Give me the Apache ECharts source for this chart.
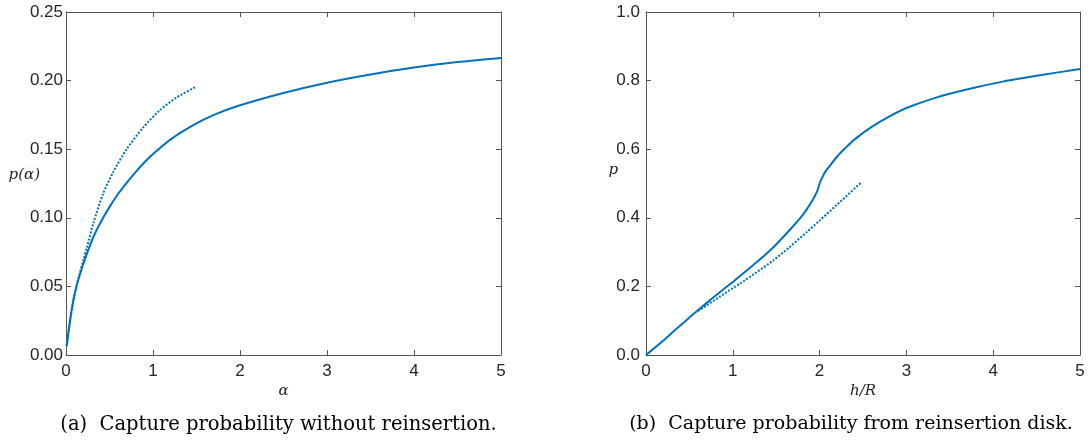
<!DOCTYPE html>
<html>
<head>
<meta charset="utf-8">
<script src="https://cdn.jsdelivr.net/npm/echarts@6/dist/echarts.min.js"></script>
<style>
html,body{margin:0;padding:0;background:#fff;}
#chart{width:1088px;height:442px;}
</style>
</head>
<body>
<div id="chart"></div>
<script>
// ---- Data ----
// (a) capture probability without reinsertion
const leftSolidAlpha = [0.008,0.02,0.05,0.084,0.12,0.161,0.2,0.25,0.314,0.4,0.506,0.6,0.697,0.8,0.9,1.0,1.2,1.463,1.7,2.0,2.5,3.0,3.5,4.0,4.5,5.0];
const leftSolidP     = [0.0065,0.0125,0.0265,0.040,0.050,0.059,0.0665,0.0755,0.086,0.097,0.1085,0.1175,0.1255,0.1333,0.1403,0.1465,0.157,0.1675,0.175,0.182,0.191,0.1985,0.2045,0.2095,0.2135,0.2165];
const leftDotAlpha   = [0.008,0.05,0.1,0.15,0.2,0.238,0.314,0.429,0.544,0.697,0.889,1.08,1.272,1.494];
const leftDotP       = [0.0065,0.0265,0.0445,0.0575,0.0695,0.078,0.096,0.118,0.1335,0.150,0.166,0.1785,0.1877,0.1955];
// (b) capture probability from reinsertion disk
const rightSolidH = [0,0.1,0.2,0.318,0.45,0.55,0.7,0.85,1.0,1.1,1.276,1.4,1.544,1.65,1.774,1.85,1.92,1.97,2.0,2.03,2.07,2.12,2.2,2.3,2.4,2.6,2.8,3.0,3.35,3.73,4.11,4.5,5.0];
const rightSolidP = [0,0.021,0.042,0.069,0.098,0.12,0.152,0.183,0.213,0.234,0.271,0.298,0.334,0.363,0.398,0.424,0.452,0.476,0.5,0.518,0.536,0.552,0.578,0.604,0.628,0.665,0.695,0.72,0.751,0.776,0.797,0.814,0.834];
const rightDotH   = [0.6,0.7,0.85,1.0,1.084,1.25,1.467,1.65,1.85,2.0,2.2,2.483];
const rightDotP   = [0.128,0.145,0.17,0.195,0.2085,0.237,0.276,0.314,0.358,0.392,0.438,0.504];
// axis ranges / ticks
const xTicks = [0,1,2,3,4,5];
const leftYTickLabels  = ['0.00','0.05','0.10','0.15','0.20','0.25'];
const rightYTickLabels = ['0.0','0.2','0.4','0.6','0.8','1.0'];
const captions = ['(a)  Capture probability without reinsertion.', '(b)  Capture probability from reinsertion disk.'];

// ---- Styling ----
const LINE = '#0072BD';
const AX = '#555555';
const TXT = '#262626';
const zip = (a, b) => a.map((v, i) => [v, b[i]]);

function xAx(grid, pos, name) {
  return {
    gridIndex: grid, type: 'value', position: pos,
    min: xTicks[0], max: xTicks[xTicks.length - 1], interval: 1,
    axisLine: {show: true, onZero: false, lineStyle: {color: AX, width: 1}},
    axisTick: {show: true, inside: true, length: 5, lineStyle: {color: AX}},
    axisLabel: {show: pos === 'bottom', fontFamily: 'Liberation Sans', fontSize: 17, color: TXT, margin: 8},
    splitLine: {show: false},
    name: pos === 'bottom' ? name : '', nameLocation: 'middle', nameGap: 29, nameMoveOverlap: false,
    nameTextStyle: {fontFamily: 'DejaVu Serif', fontStyle: 'italic', fontSize: 15, color: TXT}
  };
}
function yAx(grid, pos, max, interval, labels, margin, name, nameGap, lh) {
  return {
    gridIndex: grid, type: 'value', position: pos,
    min: 0, max: max, interval: interval,
    axisLine: {show: true, onZero: false, lineStyle: {color: AX, width: 1}},
    axisTick: {show: true, inside: true, length: 5, lineStyle: {color: AX}},
    axisLabel: {show: pos === 'left', fontFamily: 'Liberation Sans', fontSize: 17, color: TXT, margin: margin,
      formatter: v => labels[Math.round(v / interval)]},
    splitLine: {show: false},
    name: pos === 'left' ? name : '', nameLocation: 'middle', nameGap: nameGap, nameRotate: 0, nameMoveOverlap: false,
    nameTextStyle: {fontFamily: 'DejaVu Serif', fontStyle: 'italic', fontSize: 15, color: TXT,
      verticalAlign: 'bottom', lineHeight: lh}
  };
}

const chart = echarts.init(document.getElementById('chart'), null, {renderer: 'canvas'});
chart.setOption({
  animation: false,
  backgroundColor: '#ffffff',
  grid: [
    {left: 66, top: 12, width: 435, height: 343, containLabel: false, outerBoundsMode: 'none'},
    {left: 646, top: 12, width: 434, height: 343, containLabel: false, outerBoundsMode: 'none'}
  ],
  xAxis: [xAx(0, 'bottom', 'α'), xAx(0, 'top', ''), xAx(1, 'bottom', 'h/R'), xAx(1, 'top', '')],
  yAxis: [
    yAx(0, 'left', 0.25, 0.05, leftYTickLabels, 3, 'p(α)', 26, 16),
    yAx(0, 'right', 0.25, 0.05, leftYTickLabels, 3, '', 0, 16),
    yAx(1, 'left', 1, 0.2, rightYTickLabels, 6, 'p', 28, 26),
    yAx(1, 'right', 1, 0.2, rightYTickLabels, 6, '', 0, 16)
  ],
  series: [
    {type: 'line', xAxisIndex: 0, yAxisIndex: 0, data: zip(leftDotAlpha, leftDotP), showSymbol: false,
      smooth: 0.25, lineStyle: {color: LINE, width: 2, type: [2, 1.6], cap: 'butt'}},
    {type: 'line', xAxisIndex: 0, yAxisIndex: 0, data: zip(leftSolidAlpha, leftSolidP), showSymbol: false,
      smooth: 0.25, lineStyle: {color: LINE, width: 2}},
    {type: 'line', xAxisIndex: 2, yAxisIndex: 2, data: zip(rightDotH, rightDotP), showSymbol: false,
      smooth: 0.25, lineStyle: {color: LINE, width: 2, type: [2, 1.6], cap: 'butt'}},
    {type: 'line', xAxisIndex: 2, yAxisIndex: 2, data: zip(rightSolidH, rightSolidP), showSymbol: false,
      smooth: 0.25, lineStyle: {color: LINE, width: 2}}
  ],
  graphic: [
    {type: 'text', x: 278.5, y: 415, style: {text: captions[0], font: '19.5px "DejaVu Serif"', fill: '#000', align: 'center', verticalAlign: 'top'}},
    {type: 'text', x: 851, y: 415, style: {text: captions[1], font: '19px "DejaVu Serif"', fill: '#000', align: 'center', verticalAlign: 'top'}}
  ]
});
</script>
</body>
</html>
